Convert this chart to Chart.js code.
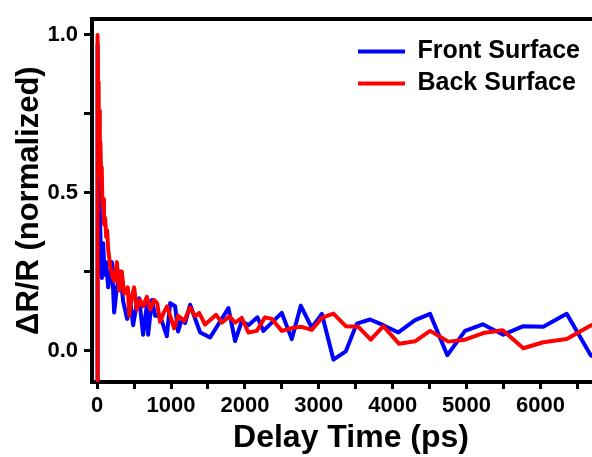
<!DOCTYPE html>
<html>
<head>
<meta charset="utf-8">
<script src="https://cdn.jsdelivr.net/npm/chart.js@4"></script>
<style>
  html, body { margin: 0; padding: 0; background: #fff; overflow: hidden; }
  #wrap { width: 612px; height: 457px; }
</style>
</head>
<body>
<div id="wrap"><canvas id="myChart"></canvas></div>
<script>
// delay time (ps) and normalized dR/R
var frontTime = [0, 6, 14, 22, 32, 42, 52, 64, 81, 100, 120, 149, 175, 199, 230, 267, 311, 352, 406, 456,
  487, 537, 568, 622, 673, 690, 740, 785, 852, 943, 988, 1055, 1096, 1146, 1191, 1258, 1394, 1529, 1777, 1867,
  1958, 2047, 2169, 2250, 2499, 2635, 2756, 2905, 3041, 3198, 3365, 3514, 3694, 3874, 4077, 4303, 4506, 4740, 4980, 5219,
  5498, 5769, 6039, 6356, 6681, 6950];
var frontValue = [-0.6, 0.97, 0.75, 0.6, 0.48, 0.38, 0.3, 0.23, 0.34, 0.24, 0.28, 0.2, 0.24, 0.28, 0.12, 0.2, 0.25, 0.155, 0.10, 0.14,
  0.08, 0.15, 0.165, 0.05, 0.145, 0.05, 0.16, 0.11, 0.11, 0.045, 0.15, 0.14, 0.06, 0.1, 0.087, 0.145, 0.057, 0.041, 0.134, 0.03,
  0.093, 0.08, 0.105, 0.062, 0.119, 0.036, 0.142, 0.072, 0.116, -0.029, -0.003, 0.085, 0.098, 0.08, 0.057, 0.096, 0.116, -0.015, 0.062, 0.083,
  0.05, 0.077, 0.075, 0.116, -0.015, -0.05];

var backTime = [0, 5, 12, 20, 28, 36, 44, 54, 62, 72, 81, 92, 108, 122, 135, 149, 175, 199, 230, 267, 298, 334,
  365, 415, 433, 470, 500, 537, 582, 622, 673, 717, 771, 812, 852, 900, 947, 1042, 1096, 1177, 1258, 1326,
  1380, 1461, 1610, 1687, 1790, 1867, 1958, 2047, 2161, 2273, 2364, 2499, 2656, 2770, 2905, 3041, 3198, 3365, 3536, 3704,
  3874, 4087, 4303, 4506, 4754, 4980, 5227, 5490, 5769, 6039, 6356, 6681, 6950];
var backValue = [-0.6, 1.0, 0.85, 0.72, 0.76, 0.62, 0.66, 0.55, 0.58, 0.46, 0.48, 0.4, 0.42, 0.36, 0.38, 0.32, 0.27, 0.24, 0.22, 0.28, 0.19, 0.25,
  0.18, 0.2, 0.11, 0.17, 0.2, 0.13, 0.16, 0.14, 0.17, 0.13, 0.16, 0.15, 0.09, 0.12, 0.14, 0.07, 0.11, 0.093, 0.136, 0.108,
  0.119, 0.082, 0.113, 0.088, 0.108, 0.088, 0.103, 0.057, 0.062, 0.105, 0.1, 0.062, 0.072, 0.075, 0.065, 0.103, 0.117, 0.077, 0.075, 0.034,
  0.077, 0.021, 0.029, 0.062, 0.028, 0.034, 0.055, 0.064, 0.007, 0.026, 0.036, 0.079, 0.09];

var xTicks = [0, 500, 1000, 1500, 2000, 2500, 3000, 3500, 4000, 4500, 5000, 5500, 6000, 6500];
var yTicks = [0, 0.25, 0.5, 0.75, 1.0];

function points(t, v) {
  return t.map(function (x, i) { return { x: x, y: v[i] }; });
}

Chart.defaults.font.family = '"Liberation Sans", Arial, sans-serif';
Chart.defaults.font.weight = 'bold';
Chart.defaults.color = '#000';

// put the legend inside the plot, top right
var legendSpot = {
  id: 'legendSpot',
  afterLayout: function (chart) {
    var lg = chart.legend;
    var w = lg.width, h = lg.height;
    lg.left = 351; lg.top = 32;
    lg.right = lg.left + w; lg.bottom = lg.top + h;
  }
};

var ctx = document.getElementById('myChart').getContext('2d');
var chart = new Chart(ctx, {
  type: 'line',
  data: {
    datasets: [{
      label: 'Front Surface',
      data: points(frontTime, frontValue),
      borderColor: '#0000ff',
      backgroundColor: '#0000ff',
      borderWidth: 4,
      borderJoinStyle: 'round',
      borderCapStyle: 'round',
      pointRadius: 0,
      order: 1
    },
    {
      label: 'Back Surface',
      data: points(backTime, backValue),
      borderColor: '#ff0000',
      backgroundColor: '#ff0000',
      borderWidth: 4,
      borderJoinStyle: 'round',
      borderCapStyle: 'round',
      pointRadius: 0,
      order: 0
    }]
  },
  options: {
    responsive: true,
    maintainAspectRatio: false,
    animation: false,
    layout: { padding: { top: 12, right: 2, left: 0, bottom: 0 } },
    plugins: {
      tooltip: { enabled: false },
      legend: {
        position: 'chartArea',
        align: 'start',
        labels: {
          usePointStyle: true,
          pointStyle: 'line',
          pointStyleWidth: 47,
          padding: 7,
          color: '#000',
          font: { size: 25, weight: 'bold' },
          sort: function (a, b) { return a.datasetIndex - b.datasetIndex; }
        }
      }
    },
    scales: {
      x: {
        type: 'linear',
        min: -70,
        max: 6942,
        afterBuildTicks: function (s) { s.ticks = xTicks.map(function (v) { return { value: v }; }); },
        afterFit: function (s) { s.height = 75; },
        ticks: {
          autoSkip: false,
          maxRotation: 0,
          padding: 4,
          font: { size: 22, weight: 'bold' },
          callback: function (v) { return v % 1000 === 0 ? String(v) : ''; }
        },
        grid: { drawOnChartArea: false, tickLength: 7, tickWidth: 3, tickColor: '#000' },
        border: { color: '#000', width: 4 },
        title: { display: true, text: 'Delay Time (ps)', font: { size: 32, weight: 'bold' }, padding: { top: 0, bottom: 0 } }
      },
      x2: {
        type: 'linear',
        position: 'top',
        min: -70,
        max: 6942,
        ticks: { display: false },
        grid: { drawOnChartArea: false, drawTicks: false },
        border: { color: '#000', width: 4 },
        afterFit: function (s) { s.height = 0; }
      },
      y: {
        min: -0.1,
        max: 1.05,
        afterBuildTicks: function (s) { s.ticks = yTicks.map(function (v) { return { value: v }; }); },
        afterFit: function (s) { s.width = 92; },
        ticks: {
          padding: 6,
          font: { size: 22, weight: 'bold' },
          callback: function (v) { return Math.abs(v * 2 - Math.round(v * 2)) < 1e-9 ? v.toFixed(1) : ''; }
        },
        grid: { drawOnChartArea: false, tickLength: 8, tickWidth: 3, tickColor: '#000' },
        border: { color: '#000', width: 4 },
        title: { display: true, text: 'ΔR/R (normalized)', font: { size: 31, weight: 'bold' }, padding: { top: 11, bottom: 0 } }
      }
    }
  },
  plugins: [legendSpot]
});
</script>
</body>
</html>
